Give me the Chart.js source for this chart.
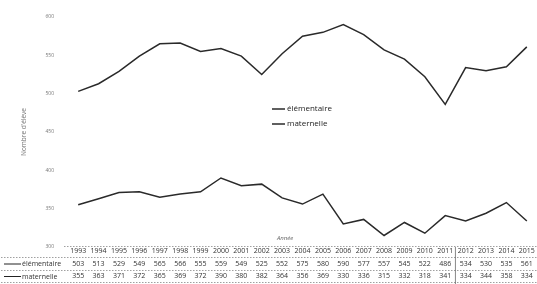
<!DOCTYPE html>
<html>
<head>
<meta charset="utf-8">
<script src="https://cdn.jsdelivr.net/npm/chart.js@4"></script>
<style>
  html, body { margin: 0; padding: 0; background: #fff; }
  #wrap { width: 537px; height: 284px; }
</style>
</head>
<body>
<div id="wrap"><canvas id="effectifs"></canvas></div>
<script>
var annees = [1993,1994,1995,1996,1997,1998,1999,2000,2001,2002,2003,2004,2005,2006,2007,2008,2009,2010,2011,2012,2013,2014,2015];
var elementaire = [503,513,529,549,565,566,555,559,549,525,552,575,580,590,577,557,545,522,486,534,530,535,561];
var maternelle = [355,363,371,372,365,369,372,390,380,382,364,356,369,330,336,315,332,318,341,334,344,358,334];
var yTicks = [300,350,400,450,500,550,600];

var police = "'Open Sans', 'Liberation Sans', sans-serif";

// etiquettes de l'axe x = tableau de donnees (annee / elementaire / maternelle)
var labels = annees.map(function(a, i){
    return [String(a), String(elementaire[i]), String(maternelle[i])];
});

var tableau = {
    id: 'tableau',
    afterDraw: function(chart){
        var ctx = chart.ctx;
        var ca = chart.chartArea;
        var x = chart.scales.x;
        ctx.save();
        // lignes pointillees du tableau
        ctx.strokeStyle = '#777';
        ctx.lineWidth = 0.7;
        ctx.setLineDash([1.5, 1.5]);
        [ca.bottom - 1, ca.bottom + 10, ca.bottom + 23, ca.bottom + 35].forEach(function(y, k){
            ctx.beginPath();
            ctx.moveTo(k == 0 ? 64 : 1, y + 0.5);
            ctx.lineTo(chart.width, y + 0.5);
            ctx.stroke();
        });
        // separation 2011 / 2012
        ctx.setLineDash([]);
        ctx.strokeStyle = '#555';
        var xs = (x.getPixelForValue(annees.indexOf(2011)) + x.getPixelForValue(annees.indexOf(2012))) / 2;
        ctx.beginPath();
        ctx.moveTo(xs, ca.bottom);
        ctx.lineTo(xs, chart.height);
        ctx.stroke();

        // libelles des lignes du tableau
        ctx.font = '7px ' + police;
        ctx.fillStyle = '#333';
        ctx.textBaseline = 'middle';
        chart.data.datasets.forEach(function(ds, i){
            var y = ca.bottom + 17 + i * 12.5;
            ctx.strokeStyle = '#222';
            ctx.lineWidth = 1;
            ctx.beginPath();
            ctx.moveTo(4, y);
            ctx.lineTo(21, y);
            ctx.stroke();
            ctx.fillText(ds.label, 22, y);
        });

        // legende au milieu du graphique
        ctx.font = '8px ' + police;
        ctx.fillStyle = '#222';
        chart.data.datasets.forEach(function(ds, i){
            var y = 109 + i * 15;
            ctx.strokeStyle = ds.borderColor;
            ctx.lineWidth = 1.5;
            ctx.beginPath();
            ctx.moveTo(272, y);
            ctx.lineTo(285, y);
            ctx.stroke();
            ctx.fillText(ds.label, 287, y);
        });

        // titre axe x
        ctx.font = 'italic 6px ' + police;
        ctx.fillStyle = '#666';
        ctx.fillText('Année', 277, ca.bottom - 9);
        ctx.restore();
    }
};

var ctx = document.getElementById('effectifs').getContext('2d');
var chart = new Chart(ctx, {
    type: 'line',
    data: {
        labels: labels,
        datasets: [{
            label: 'élémentaire',
            data: elementaire,
            borderColor: '#2a2a2a',
            borderWidth: 1.5,
            pointRadius: 0,
            tension: 0
        }, {
            label: 'maternelle',
            data: maternelle,
            borderColor: '#2a2a2a',
            borderWidth: 1.5,
            pointRadius: 0,
            tension: 0
        }]
    },
    options: {
        responsive: true,
        maintainAspectRatio: false,
        animation: false,
        layout: { padding: { top: 17, right: 0, left: 20, bottom: 0 } },
        plugins: {
            legend: { display: false },
            tooltip: { enabled: false }
        },
        scales: {
            x: {
                offset: true,
                grid: { display: false, drawTicks: false },
                border: { display: false },
                ticks: {
                    autoSkip: false,
                    maxRotation: 0,
                    padding: -2,
                    color: '#333',
                    font: { family: police, size: 7, lineHeight: '12.5px' }
                },
                afterFit: function(scale){ scale.height = 37; }
            },
            y: {
                min: 300,
                max: 600,
                grid: { display: false, drawTicks: false },
                border: { display: false },
                afterBuildTicks: function(scale){
                    scale.ticks = yTicks.map(function(v){ return { value: v }; });
                },
                ticks: {
                    padding: 14,
                    color: '#777',
                    font: { family: police, size: 5 }
                },
                title: {
                    display: true,
                    text: "Nombre d'élève",
                    color: '#777',
                    padding: { top: 0, bottom: 0 },
                    font: { family: police, size: 6.5 }
                },
                afterFit: function(scale){ scale.width = 48; }
            }
        }
    },
    plugins: [tableau]
});
</script>
</body>
</html>
